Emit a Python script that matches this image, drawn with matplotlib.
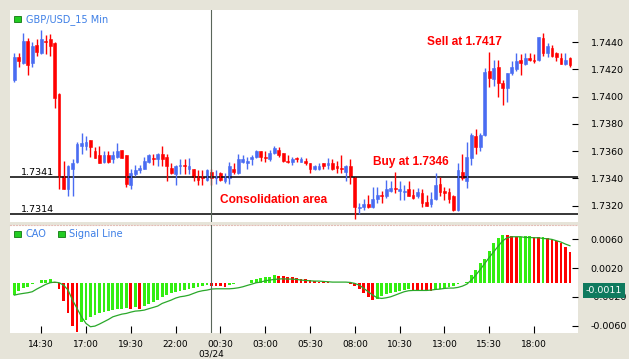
import matplotlib
matplotlib.use("Agg")
import matplotlib.pyplot as plt
import matplotlib.transforms as mtransforms
from matplotlib.patches import Patch
import numpy as np
import pandas as pd

# 15 minute bars, GBP/USD, 03/23 13:00 -> 03/24 20:00
opens = [1.7412, 1.7429, 1.7425, 1.7441, 1.7425, 1.7438, 1.7432, 1.7441, 1.7442, 1.7439,
         1.7402, 1.7342, 1.7332, 1.7347, 1.7352, 1.7364, 1.7364, 1.7368, 1.7360, 1.7357,
         1.7352, 1.7357, 1.7354, 1.7356, 1.7361, 1.7357, 1.7335, 1.7343, 1.7346, 1.7347,
         1.7352, 1.7355, 1.7354, 1.7358, 1.7356, 1.7348, 1.7343, 1.7349, 1.7350, 1.7347,
         1.7347, 1.7342, 1.7341, 1.7339, 1.7345, 1.7340, 1.7344, 1.7338, 1.7340, 1.7347,
         1.7344, 1.7352, 1.7351, 1.7354, 1.7356, 1.7360, 1.7356, 1.7354, 1.7359, 1.7361,
         1.7359, 1.7353, 1.7352, 1.7355, 1.7352, 1.7353, 1.7351, 1.7347, 1.7347, 1.7351,
         1.7350, 1.7351, 1.7349, 1.7348, 1.7345, 1.7349, 1.7341, 1.7318, 1.7319, 1.7321,
         1.7319, 1.7325, 1.7328, 1.7327, 1.7331, 1.7333, 1.7331, 1.7330, 1.7332, 1.7328,
         1.7327, 1.7329, 1.7323, 1.7321, 1.7325, 1.7336, 1.7331, 1.7330, 1.7327, 1.7317,
         1.7345, 1.7338, 1.7355, 1.7371, 1.7363, 1.7372, 1.7419, 1.7413, 1.7422, 1.7410,
         1.7406, 1.7417, 1.7420, 1.7427, 1.7424, 1.7428, 1.7427, 1.7427, 1.7443, 1.7432,
         1.7436, 1.7432, 1.7428, 1.7424, 1.7428]
highs = [1.7432, 1.7432, 1.7447, 1.7443, 1.7440, 1.7442, 1.7449, 1.7445, 1.7446, 1.7440,
         1.7403, 1.7353, 1.7350, 1.7354, 1.7367, 1.7373, 1.7371, 1.7368, 1.7363, 1.7364,
         1.7360, 1.7360, 1.7360, 1.7366, 1.7361, 1.7357, 1.7347, 1.7350, 1.7350, 1.7356,
         1.7358, 1.7358, 1.7359, 1.7364, 1.7358, 1.7351, 1.7350, 1.7354, 1.7354, 1.7355,
         1.7347, 1.7346, 1.7346, 1.7347, 1.7347, 1.7346, 1.7345, 1.7344, 1.7352, 1.7351,
         1.7358, 1.7357, 1.7356, 1.7357, 1.7361, 1.7360, 1.7360, 1.7361, 1.7364, 1.7363,
         1.7359, 1.7357, 1.7356, 1.7356, 1.7356, 1.7355, 1.7351, 1.7350, 1.7351, 1.7351,
         1.7355, 1.7354, 1.7353, 1.7357, 1.7350, 1.7354, 1.7341, 1.7322, 1.7325, 1.7328,
         1.7334, 1.7334, 1.7331, 1.7339, 1.7338, 1.7345, 1.7338, 1.7335, 1.7338, 1.7332,
         1.7333, 1.7332, 1.7328, 1.7330, 1.7344, 1.7341, 1.7334, 1.7333, 1.7328, 1.7351,
         1.7358, 1.7367, 1.7373, 1.7376, 1.7373, 1.7421, 1.7433, 1.7427, 1.7427, 1.7412,
         1.7417, 1.7426, 1.7432, 1.7431, 1.7432, 1.7432, 1.7431, 1.7444, 1.7447, 1.7439,
         1.7438, 1.7433, 1.7432, 1.7432, 1.7429]
lows = [1.7411, 1.7422, 1.7424, 1.7416, 1.7422, 1.7430, 1.7431, 1.7431, 1.7430, 1.7392,
        1.7332, 1.7332, 1.7327, 1.7327, 1.7351, 1.7358, 1.7361, 1.7356, 1.7355, 1.7351,
        1.7351, 1.7351, 1.7351, 1.7355, 1.7355, 1.7334, 1.7332, 1.7342, 1.7344, 1.7347,
        1.7351, 1.7350, 1.7349, 1.7349, 1.7338, 1.7343, 1.7335, 1.7343, 1.7343, 1.7343,
        1.7338, 1.7335, 1.7335, 1.7338, 1.7335, 1.7336, 1.7338, 1.7337, 1.7336, 1.7343,
        1.7343, 1.7351, 1.7347, 1.7350, 1.7355, 1.7353, 1.7352, 1.7353, 1.7358, 1.7356,
        1.7352, 1.7351, 1.7350, 1.7352, 1.7352, 1.7350, 1.7344, 1.7346, 1.7346, 1.7347,
        1.7347, 1.7346, 1.7344, 1.7344, 1.7338, 1.7336, 1.7310, 1.7314, 1.7317, 1.7318,
        1.7318, 1.7322, 1.7322, 1.7326, 1.7330, 1.7329, 1.7324, 1.7324, 1.7327, 1.7325,
        1.7326, 1.7319, 1.7320, 1.7319, 1.7324, 1.7327, 1.7324, 1.7322, 1.7316, 1.7316,
        1.7339, 1.7333, 1.7350, 1.7358, 1.7360, 1.7371, 1.7407, 1.7408, 1.7400, 1.7394,
        1.7396, 1.7416, 1.7419, 1.7416, 1.7423, 1.7426, 1.7425, 1.7426, 1.7430, 1.7429,
        1.7429, 1.7426, 1.7424, 1.7423, 1.7422]
closes = [1.7429, 1.7426, 1.7441, 1.7423, 1.7437, 1.7433, 1.7442, 1.7440, 1.7437, 1.7399,
          1.7342, 1.7332, 1.7349, 1.7351, 1.7365, 1.7366, 1.7367, 1.7363, 1.7355, 1.7351,
          1.7357, 1.7352, 1.7357, 1.7360, 1.7355, 1.7336, 1.7344, 1.7346, 1.7348, 1.7353,
          1.7357, 1.7354, 1.7358, 1.7354, 1.7349, 1.7344, 1.7349, 1.7350, 1.7349, 1.7349,
          1.7341, 1.7339, 1.7340, 1.7346, 1.7340, 1.7341, 1.7339, 1.7341, 1.7349, 1.7345,
          1.7354, 1.7354, 1.7353, 1.7356, 1.7360, 1.7356, 1.7355, 1.7359, 1.7362, 1.7357,
          1.7353, 1.7352, 1.7354, 1.7354, 1.7354, 1.7351, 1.7347, 1.7349, 1.7349, 1.7349,
          1.7351, 1.7347, 1.7348, 1.7347, 1.7349, 1.7342, 1.7319, 1.7319, 1.7321, 1.7319,
          1.7325, 1.7328, 1.7327, 1.7332, 1.7333, 1.7332, 1.7332, 1.7331, 1.7327, 1.7326,
          1.7330, 1.7322, 1.7320, 1.7325, 1.7335, 1.7330, 1.7329, 1.7325, 1.7317, 1.7346,
          1.7340, 1.7356, 1.7372, 1.7363, 1.7372, 1.7418, 1.7414, 1.7421, 1.7410, 1.7406,
          1.7417, 1.7422, 1.7426, 1.7425, 1.7428, 1.7427, 1.7426, 1.7444, 1.7432, 1.7437,
          1.7430, 1.7429, 1.7424, 1.7427, 1.7423]

# CAO histogram and its signal line
cao = [-0.00174, -0.00118, -0.00081, -0.00058, -0.00025, -0.00002, 0.00035, 0.00038, 0.00044, 0.00010,
       -0.00090, -0.00252, -0.00428, -0.00604, -0.00683, -0.00544, -0.00521, -0.00475, -0.00451, -0.00428,
       -0.00405, -0.00391, -0.00382, -0.00373, -0.00364, -0.00354, -0.00373, -0.00345, -0.00364, -0.00326,
       -0.00299, -0.00271, -0.00243, -0.00206, -0.00178, -0.00150, -0.00132, -0.00113, -0.00104, -0.00086,
       -0.00072, -0.00058, -0.00049, -0.00039, -0.00044, -0.00049, -0.00053, -0.00056, -0.00035, -0.00021,
       -0.00012, -0.00007, -0.00002, 0.00035, 0.00044, 0.00058, 0.00072, 0.00081, 0.00100, 0.00090,
       0.00086, 0.00081, 0.00072, 0.00063, 0.00053, 0.00044, 0.00035, 0.00020, 0.00008, 0.00005,
       0.00003, 0.00001, -0.00001, -0.00003, -0.00008, -0.00021, -0.00049, -0.00095, -0.00150, -0.00197,
       -0.00243, -0.00229, -0.00188, -0.00160, -0.00141, -0.00127, -0.00113, -0.00104, -0.00095, -0.00100,
       -0.00104, -0.00109, -0.00113, -0.00118, -0.00104, -0.00090, -0.00076, -0.00058, -0.00044, -0.00025,
       -0.00012, 0.00012, 0.00104, 0.00174, 0.00275, 0.00331, 0.00442, 0.00544, 0.00613, 0.00664,
       0.00655, 0.00645, 0.00635, 0.00640, 0.00645, 0.00650, 0.00640, 0.00630, 0.00635, 0.00615,
       0.00600, 0.00580, 0.00550, 0.00490, 0.00420]
signal = [-0.00174, -0.00160, -0.00150, -0.00141, -0.00127, -0.00090, -0.00058, -0.00025, -0.00002, 0.00007,
          -0.00002, -0.00035, -0.00104, -0.00243, -0.00359, -0.00475, -0.00567, -0.00613, -0.00604, -0.00576,
          -0.00544, -0.00512, -0.00475, -0.00456, -0.00438, -0.00428, -0.00410, -0.00396, -0.00391, -0.00382,
          -0.00363, -0.00345, -0.00326, -0.00289, -0.00266, -0.00243, -0.00215, -0.00197, -0.00188, -0.00174,
          -0.00150, -0.00127, -0.00113, -0.00104, -0.00090, -0.00086, -0.00086, -0.00086, -0.00086, -0.00081,
          -0.00072, -0.00058, -0.00039, -0.00021, -0.00002, 0.00007, 0.00025, 0.00035, 0.00044, 0.00049,
          0.00053, 0.00049, 0.00049, 0.00044, 0.00035, 0.00030, 0.00025, 0.00021, 0.00021, 0.00016,
          0.00012, 0.00007, 0.00007, 0.00007, 0.00007, 0.00002, -0.00012, -0.00035, -0.00081, -0.00127,
          -0.00174, -0.00211, -0.00220, -0.00211, -0.00197, -0.00174, -0.00150, -0.00127, -0.00113, -0.00109,
          -0.00109, -0.00109, -0.00109, -0.00104, -0.00095, -0.00090, -0.00081, -0.00076, -0.00076, -0.00067,
          -0.00049, -0.00021, 0.00035, 0.00104, 0.00183, 0.00266, 0.00350, 0.00428, 0.00507, 0.00581,
          0.00623, 0.00637, 0.00637, 0.00637, 0.00627, 0.00627, 0.00623, 0.00623, 0.00613, 0.00609,
          0.00600, 0.00581, 0.00563, 0.00535, 0.00512]

support_levels = [1.7341, 1.7314]
price_ticks = [1.7320, 1.7340, 1.7360, 1.7380, 1.7400, 1.7420, 1.7440]
cao_ticks = [-0.0060, -0.0020, 0.0020, 0.0060]
cao_last = -0.0011
time_labels = ["14:30", "17:00", "19:30", "22:00", "00:30", "03:00",
               "05:30", "08:00", "10:30", "13:00", "15:30", "18:00"]

BG = "#e6e4d9"
BLUE = "#4a6cf2"
RED = "#ff0000"
GREEN = "#33ee11"

o = np.array(opens); h = np.array(highs); l = np.array(lows); c = np.array(closes)
times = pd.date_range("2009-03-23 13:00", periods=len(o), freq="15min")
idx = np.arange(len(o))
labels_hm = list(times.strftime("%H:%M"))
# labels repeat across the two days, so look for each one after the previous tick
tick_idx = []
start = 0
for t in time_labels:
    k = labels_hm.index(t, start)
    tick_idx.append(k)
    start = k + 1
midnight = int(np.where((times.hour == 0) & (times.minute == 0))[0][0])

fig = plt.figure(figsize=(6.29, 3.59), dpi=100, facecolor=BG)
ax1 = fig.add_axes([10 / 629, 1 - 222 / 359, 568 / 629, 212 / 359])
ax2 = fig.add_axes([10 / 629, 1 - 333 / 359, 568 / 629, 108 / 359])

# candles
up = c >= o
col = np.where(up, BLUE, RED)
ax1.vlines(idx, l, h, colors=col, lw=1)
body_lo = np.minimum(o, c)
body_h = np.maximum(np.abs(c - o), 0.00002)
ax1.bar(idx, body_h, bottom=body_lo, width=0.62, color=col, edgecolor=col, lw=0.4)

for lev in support_levels:
    ax1.axhline(lev, color="black", lw=1.1, zorder=1)
    ax1.text(0.019, lev, "%.4f" % lev, transform=mtransforms.blended_transform_factory(ax1.transAxes, ax1.transData),
             fontsize=6.8, va="bottom", ha="left")

ax1.text(100.5, 1.7440, "Sell at 1.7417", color=RED, fontsize=8.6, fontweight="bold",
         family="Liberation Sans", ha="center", va="center")
ax1.text(88.4, 1.7352, "Buy at 1.7346", color=RED, fontsize=8.6, fontweight="bold",
         family="Liberation Sans", ha="center", va="center")
ax1.text(57.9, 1.73242, "Consolidation area", color=RED, fontsize=8.6, fontweight="bold",
         family="Liberation Sans", ha="center", va="center")

ax1.set_xlim(-0.96, 125.8)
ax1.set_ylim(1.73081, 1.74635)
ax1.set_xticks([])
ax1.yaxis.tick_right()
ax1.set_yticks(price_ticks)
ax1.set_yticklabels(["%.4f" % p for p in price_ticks])
ax1.tick_params(axis="y", direction="in", length=4, pad=9, labelsize=6.8)

# CAO panel
cao_a = np.array(cao)
bar_col = [GREEN] + [GREEN if cao_a[i] > cao_a[i - 1] else RED for i in range(1, len(cao_a))]
ax2.bar(idx, cao_a, width=0.62, color=bar_col, lw=0)
ax2.plot(idx, signal, color="#2aa82a", lw=0.9)
ax2.set_xlim(-0.96, 125.8)
ax2.set_ylim(-0.0070, 0.0080)
ax2.yaxis.tick_right()
ax2.set_yticks(cao_ticks)
ax2.set_yticklabels(["%.4f" % v for v in cao_ticks])
ax2.tick_params(axis="y", direction="in", length=4, pad=9, labelsize=6.8)
ax2.set_xticks(tick_idx)
ax2.set_xticklabels(time_labels)
ax2.tick_params(axis="x", direction="in", length=5, pad=5, labelsize=6.5)
ax2.text(midnight, -0.19, times[midnight].strftime("%m/%d"), fontsize=6.5, ha="center", va="center",
         transform=mtransforms.blended_transform_factory(ax2.transData, ax2.transAxes), clip_on=False)
ax2.text(1.014, cao_last, "%.4f" % cao_last, color="white", fontsize=6.8, ha="left", va="center",
         transform=mtransforms.blended_transform_factory(ax2.transAxes, ax2.transData), clip_on=False,
         bbox=dict(boxstyle="square,pad=0.32", fc="#0f7a5e", ec="none"), zorder=5)

for ax in (ax1, ax2):
    ax.set_facecolor("white")
    ax.axvline(midnight, color="#5a665a", lw=0.8, zorder=4)
    for s in ax.spines.values():
        s.set_visible(False)
ax2.spines["top"].set_visible(True)
ax2.spines["top"].set_color("#e3bdb5")
ax2.spines["top"].set_linestyle(":")

ax1.legend(handles=[Patch(fc="#22cc22", ec="#117711", lw=0.6)], labels=["GBP/USD_15 Min"],
           loc="upper left", bbox_to_anchor=(0.0, 1.0), frameon=False, fontsize=7, labelcolor="#3d7fe6",
           handlelength=0.7, handleheight=0.7, handletextpad=0.45, borderaxespad=0.15, borderpad=0.3)
ax2.legend(handles=[Patch(fc="#22cc22", ec="#117711", lw=0.6), Patch(fc="#22cc22", ec="#117711", lw=0.6)],
           labels=["CAO", "Signal Line"], ncol=2, loc="upper left", bbox_to_anchor=(0.0, 1.0), frameon=False,
           fontsize=7, labelcolor="#3d7fe6", handlelength=0.7, handleheight=0.7, handletextpad=0.45,
           columnspacing=1.2, borderaxespad=0.15, borderpad=0.3)

fig.savefig("out.png", dpi=100, facecolor=BG)
